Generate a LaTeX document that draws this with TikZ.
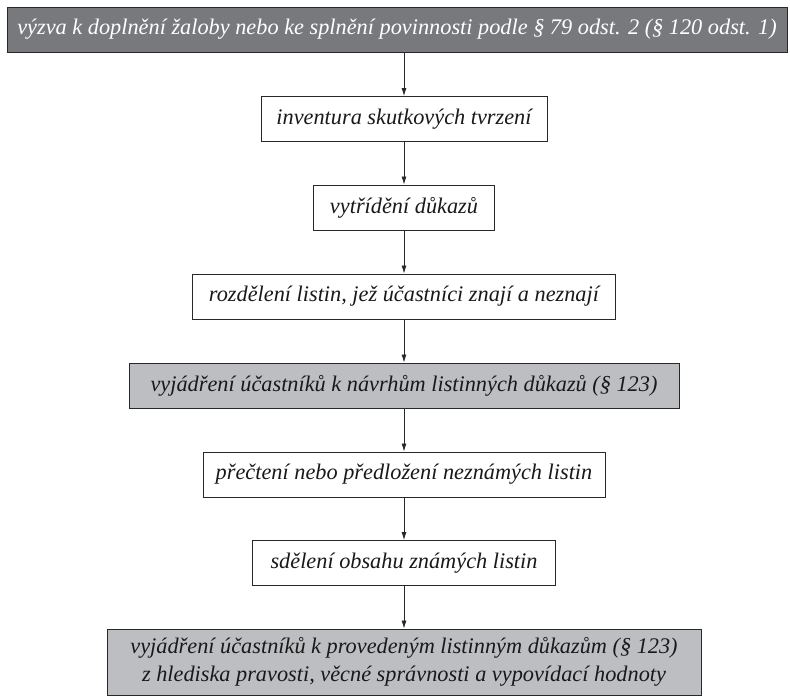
\documentclass[tikz,border=0pt]{standalone}
\usepackage{fontspec}
\setmainfont{Liberation Serif}
\usetikzlibrary{arrows.meta}

\definecolor{tmavaseda}{RGB}{120,121,124}
\definecolor{svetlaseda}{RGB}{189,190,193}
\definecolor{okraj}{RGB}{40,40,40}

\tikzset{
  krok/.style={draw=okraj, line width=0.9pt, inner sep=0pt, minimum height=45pt,
    align=center, text=black!90, font=\fontsize{22.3}{28}\selectfont\itshape},
  tmavy/.style={krok, fill=tmavaseda, text=white},
  svetly/.style={krok, fill=svetlaseda},
}

\begin{document}
\begin{tikzpicture}[x=1pt, y=-1pt, >={Latex[length=8pt,width=5pt]}]
    \useasboundingbox (0,0) rectangle (790,697);

    % 1. kroky postupu
    \node[tmavy, minimum width=780pt] (vyzva) at (397,29.5)
        {výzva k doplnění žaloby nebo ke splnění povinnosti podle § 79 odst. 2 (§ 120 odst. 1)};
    \node[krok, minimum width=286pt] (inventura) at (404,119) {inventura skutkových tvrzení};
    \node[krok, minimum width=181pt] (trideni) at (404,207.5) {vytřídění důkazů};
    \node[krok, minimum width=423pt] (rozdeleni) at (404,296.5) {rozdělení listin, jež účastníci znají a neznají};
    \node[svetly, minimum width=550pt] (navrhy) at (404,385.5)
        {vyjádření účastníků k návrhům listinných důkazů (§ 123)};
    \node[krok, minimum width=402pt] (precteni) at (404,474.5) {přečtení nebo předložení neznámých listin};
    \node[krok, minimum width=303pt] (sdeleni) at (404,563) {sdělení obsahu známých listin};
    \node[svetly, minimum width=594pt, minimum height=66pt] (provedene) at (404,662)
        {vyjádření účastníků k provedeným listinným důkazům (§ 123)\\
         z hlediska pravosti, věcné správnosti a vypovídací hodnoty};

    % 2. šipky mezi kroky
    \draw[->, okraj, line width=0.8pt] (inventura.north |- vyzva.south) -- (inventura.north);
    \draw[->, okraj, line width=0.8pt] (inventura) -- (trideni);
    \draw[->, okraj, line width=0.8pt] (trideni) -- (rozdeleni);
    \draw[->, okraj, line width=0.8pt] (rozdeleni) -- (navrhy);
    \draw[->, okraj, line width=0.8pt] (navrhy) -- (precteni);
    \draw[->, okraj, line width=0.8pt] (precteni) -- (sdeleni);
    \draw[->, okraj, line width=0.8pt] (sdeleni) -- (provedene);

\end{tikzpicture}
\end{document}
